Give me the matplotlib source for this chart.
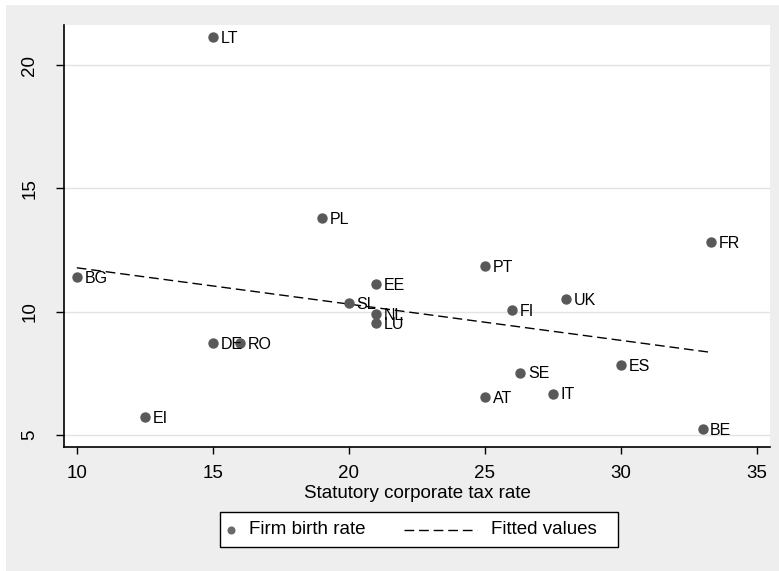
import matplotlib
matplotlib.use("Agg")
import matplotlib.pyplot as plt
from matplotlib.patches import Rectangle
from matplotlib.lines import Line2D

plt.rcParams['font.family'] = ['Liberation Sans', 'DejaVu Sans']

# Data
countries = ['LT', 'PL', 'BG', 'EE', 'SL', 'NL', 'LU', 'DE', 'RO', 'EI',
             'PT', 'FR', 'UK', 'FI', 'ES', 'SE', 'AT', 'IT', 'BE']
tax_rate = [15, 19, 10, 21, 20, 21, 21, 15, 16, 12.5,
            25, 33.3, 28, 26, 30, 26.3, 25, 27.5, 33]
birth_rate = [21.13, 13.81, 11.42, 11.11, 10.36, 9.91, 9.53, 8.74, 8.74, 5.74,
              11.86, 12.81, 10.5, 10.08, 7.84, 7.53, 6.55, 6.68, 5.25]

# fitted line end points
fit_x = [10, 33.3]
fit_y = [11.78, 8.35]

xticks = [10, 15, 20, 25, 30, 35]
yticks = [5, 10, 15, 20]

marker_col = '#595959'
bg_col = '#eeeeee'
W, H = 779, 571


def fx(px):
    return px / W


def fy(py):
    return 1 - py / H


fig = plt.figure(figsize=(W / 100, H / 100), dpi=100)
fig.patch.set_facecolor('white')
fig.patches.append(Rectangle((fx(6), 0), 1 - fx(6), fy(5),
                             transform=fig.transFigure, facecolor=bg_col,
                             edgecolor='none', zorder=-10))

ax = fig.add_axes([fx(64), fy(447), fx(770 - 64), (447 - 25) / H])
ax.set_facecolor('white')

ax.scatter(tax_rate, birth_rate, s=42, color=marker_col, zorder=3)
for name, xv, yv in zip(countries, tax_rate, birth_rate):
    ax.annotate(name, xy=(xv, yv), xytext=(5.5, -1), textcoords='offset points',
                fontsize=11.5, va='center', ha='left', zorder=4)

ax.plot(fit_x, fit_y, color='black', linewidth=1, linestyle=(0, (7, 3.5)), zorder=2)

ax.set_xlim(9.53, 35.48)
ax.set_ylim(4.51, 21.63)
ax.set_xticks(xticks)
ax.set_yticks(yticks)
ax.tick_params(axis='both', direction='out', width=1, labelsize=13.5, color='black')
ax.tick_params(axis='x', length=5, pad=8)
ax.tick_params(axis='y', length=5.5, pad=13)
for lab in ax.get_yticklabels():
    lab.set_rotation(90)
    lab.set_va('center')

ax.grid(axis='y', color='#e3e3e3', linewidth=1)
ax.set_axisbelow(True)
for side in ['top', 'right']:
    ax.spines[side].set_visible(False)
for side in ['left', 'bottom']:
    ax.spines[side].set_linewidth(1.2)

ax.set_xlabel('Statutory corporate tax rate', fontsize=13.5, labelpad=2)

# legend box drawn by hand so the marker sits close to its text, as in Stata
fig.patches.append(Rectangle((fx(219.5), fy(547.3)), fx(618 - 219.5), (547.3 - 511.7) / H,
                             transform=fig.transFigure, facecolor='white',
                             edgecolor='black', linewidth=1, zorder=5))
ly = fy(530)
fig.add_artist(Line2D([fx(231)], [ly], marker='o', linestyle='none',
                      color='#6a6a6a', markersize=4.8, zorder=6))
fig.text(fx(249), ly, 'Firm birth rate', fontsize=13.5, va='center', ha='left', zorder=6)
fig.add_artist(Line2D([fx(404), fx(477)], [ly, ly], color='black', linewidth=1,
                      linestyle=(0, (7, 3.5)), zorder=6))
fig.text(fx(491), ly, 'Fitted values', fontsize=13.5, va='center', ha='left', zorder=6)

fig.savefig('out.png', dpi=100, facecolor=fig.get_facecolor())
